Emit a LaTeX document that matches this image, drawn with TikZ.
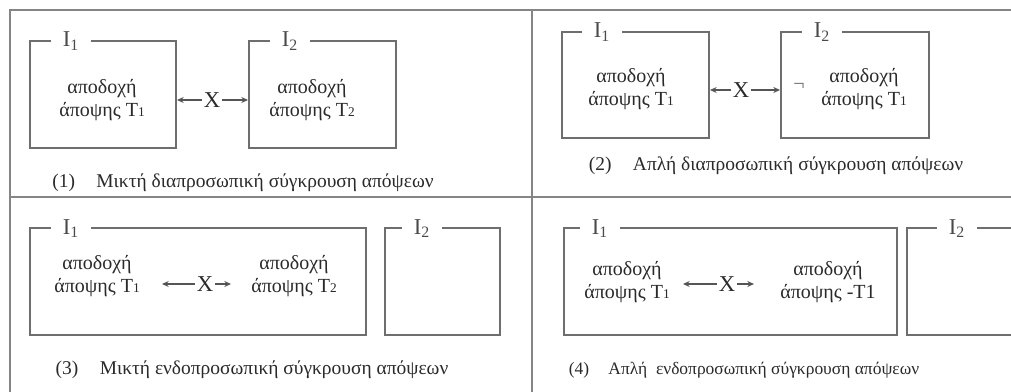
\documentclass[tikz,border=0pt]{standalone}
\usepackage{fontspec}
\setmainfont{Liberation Serif}
\usetikzlibrary{arrows.meta,fit}
\definecolor{frame}{HTML}{858585}
\definecolor{boxline}{HTML}{6E6E6E}
\definecolor{ink}{HTML}{2A2A2A}
\tikzset{
 frameline/.style={draw=frame,line width=1.5pt},
 box/.style={draw=boxline,line width=1.5pt,rectangle,inner sep=0pt},
 lbl/.style={fill=white,text=ink!85,inner xsep=9pt,inner ysep=0pt,font=\fontsize{17}{17}\selectfont,anchor=base},
 txt/.style={text=ink,align=center,font=\fontsize{15}{17}\selectfont,inner sep=0pt},
 captxt/.style={text=ink,font=\fontsize{14.6}{16}\selectfont,inner sep=0pt},
 xl/.style={text=ink,font=\fontsize{17}{17}\selectfont,inner sep=1.2pt},
 arr/.style={draw=ink!80,line width=0.9pt,-{Stealth[length=5pt,width=4.5pt]}},
}
\newcommand{\tone}{T{\fontsize{10}{10}\selectfont 1}}
\newcommand{\ttwo}{T{\fontsize{10}{10}\selectfont 2}}
\begin{document}
\begin{tikzpicture}[x=0.75pt,y=-0.75pt]
\useasboundingbox (0,0) rectangle (1011,392);
\begin{scope}
\clip (0,0) rectangle (1011,392);
% outer frame
\draw[frameline] (1011,10) -- (10,10) -- (10,392);
\draw[frameline] (10,197) -- (1011,197);
\draw[frameline] (532,10) -- (532,392);

% ---------- panel 1
\node[box,fit={(30,41)(176,148)}] (b11) {};
\node[box,fit={(249,41)(396,148)}] (b12) {};
\node[lbl] (l11) at (71,47) {I\textsubscript{1}};
\node[lbl] (l12) at (290,47) {I\textsubscript{2}};
\node[txt] (t11) at (102,100) {αποδοχή\\άποψης \tone};
\node[txt] (t12) at (312,100) {αποδοχή\\άποψης \ttwo};
\node[xl] (x1) at (212,100) {X};
\draw[arr] (x1) -- (b11.east |- x1);
\draw[arr] (x1) -- (b12.west |- x1);
\node[captxt] (c1) at (243,183) {(1)\hspace{1.1em}Μικτή διαπροσωπική σύγκρουση απόψεων};

% ---------- panel 2
\node[box,fit={(562,32)(709,138)}] (b21) {};
\node[box,fit={(781,32)(929,138)}] (b22) {};
\node[lbl] (l21) at (602,38) {I\textsubscript{1}};
\node[lbl] (l22) at (822,38) {I\textsubscript{2}};
\node[txt] (t21) at (631,89) {αποδοχή\\άποψης \tone};
\node[txt] (t22) at (864,89) {αποδοχή\\άποψης \tone};
\node[xl] (x2) at (741,90) {X};
\draw[arr] (x2) -- (b21.east |- x2);
\draw[arr] (x2) -- (b22.west |- x2);
\node[txt,text=ink!70] (n2) at (799,87) {¬};
\node[captxt] (c2) at (776,166) {(2)\hspace{1.1em}Απλή διαπροσωπική σύγκρουση απόψεων};

% ---------- panel 3
\node[box,fit={(30,228)(366,335)}] (b31) {};
\node[box,fit={(385,228)(500,335)}] (b32) {};
\node[lbl] (l31) at (71,234) {I\textsubscript{1}};
\node[lbl] (l32) at (422,234) {I\textsubscript{2}};
\node[txt] (t31) at (97,276) {αποδοχή\\άποψης \tone};
\node[txt] (t32) at (294,276) {αποδοχή\\άποψης \ttwo};
\node[xl] (x3) at (205,284) {X};
\coordinate (a31) at (162,284);
\coordinate (a32) at (231,284);
\draw[arr] (x3) -- (a31);
\draw[arr] (x3) -- (a32);
\node[captxt] (c3) at (252,370) {(3)\hspace{1.1em}Μικτή ενδοπροσωπική σύγκρουση απόψεων};

% ---------- panel 4
\node[box,fit={(564,228)(897,335)}] (b41) {};
\node[box,fit={(907,228)(1020,335)}] (b42) {};
\node[lbl] (l41) at (600,234) {I\textsubscript{1}};
\node[lbl] (l42) at (957,234) {I\textsubscript{2}};
\node[txt] (t41) at (627,282) {αποδοχή\\άποψης \tone};
\node[txt] (t42) at (828,282) {αποδοχή\\άποψης -T1};
\node[xl] (x4) at (727,284) {X};
\coordinate (a41) at (683,284);
\coordinate (a42) at (754,284);
\draw[arr] (x4) -- (a41);
\draw[arr] (x4) -- (a42);
\node[captxt,font=\fontsize{13.1}{15}\selectfont] (c4) at (744,370) {(4)\hspace{1.1em}Απλή\ \ ενδοπροσωπική σύγκρουση απόψεων};
\end{scope}
\end{tikzpicture}
\end{document}
